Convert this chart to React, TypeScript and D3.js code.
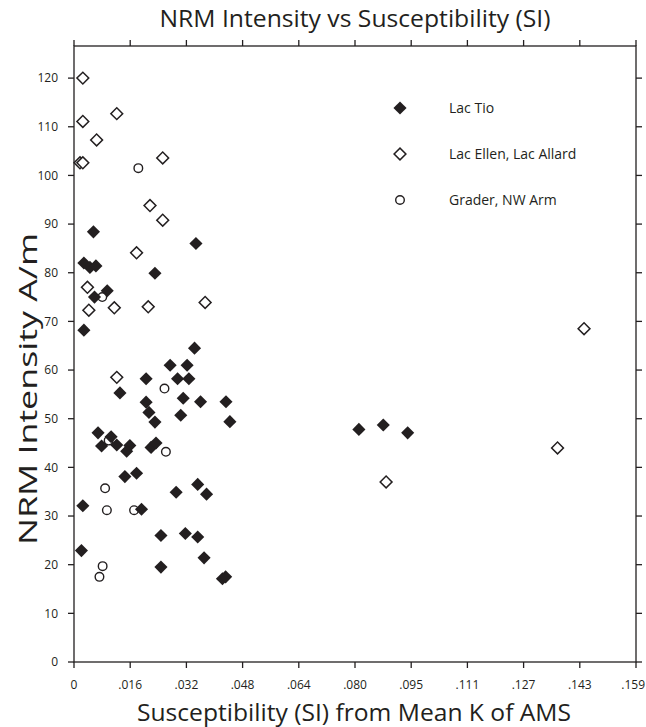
import React from "react";
import * as d3 from "d3";

// Samples: [mean susceptibility K (SI), NRM intensity (A/m)]
const lacTio: [number, number][] = [
  [0.0055, 88.4], [0.0345, 86.0], [0.0028, 82.0], [0.0045, 81.1], [0.0062, 81.4],
  [0.0229, 79.9], [0.0094, 76.3], [0.0058, 75.0], [0.0028, 68.2], [0.0341, 64.5],
  [0.0272, 61.0], [0.032, 61.0], [0.0204, 58.2], [0.0293, 58.2], [0.0325, 58.2],
  [0.013, 55.3], [0.0309, 54.2], [0.0358, 53.5], [0.043, 53.5], [0.0204, 53.4],
  [0.0212, 51.3], [0.0302, 50.7], [0.0229, 49.3], [0.0441, 49.4], [0.0068, 47.1],
  [0.0105, 46.3], [0.0078, 44.4], [0.0121, 44.6], [0.0158, 44.5], [0.0149, 43.3],
  [0.0218, 44.1], [0.0232, 45.0], [0.0144, 38.1], [0.0177, 38.8], [0.0025, 32.1],
  [0.0191, 31.4], [0.0289, 34.9], [0.035, 36.5], [0.0375, 34.5], [0.0246, 26.0],
  [0.0315, 26.4], [0.035, 25.7], [0.0368, 21.4], [0.0021, 22.9], [0.0246, 19.5],
  [0.042, 17.1], [0.0429, 17.5], [0.0806, 47.8], [0.0875, 48.7], [0.0944, 47.1],
];

const lacEllenAllard: [number, number][] = [
  [0.0025, 120.0], [0.0121, 112.7], [0.0025, 111.1], [0.0064, 107.3], [0.0017, 102.6],
  [0.0025, 102.6], [0.0251, 103.6], [0.0215, 93.8], [0.0251, 90.8], [0.0177, 84.1],
  [0.0038, 77.0], [0.0042, 72.3], [0.0114, 72.8], [0.021, 73.0], [0.0371, 73.9],
  [0.0121, 58.5], [0.0883, 37.0], [0.1368, 44.0], [0.1443, 68.5],
];

const graderNwArm: [number, number][] = [
  [0.0182, 101.5], [0.008, 75.0], [0.0256, 56.2], [0.026, 43.2], [0.0098, 45.5],
  [0.0088, 35.7], [0.0093, 31.2], [0.017, 31.2], [0.0081, 19.7], [0.0072, 17.5],
];

const xTickValues = [0, 0.0159, 0.0318, 0.0477, 0.0636, 0.0795, 0.0954, 0.1113, 0.1272, 0.1431, 0.159];
const xTickLabels = ["0", ".016", ".032", ".048", ".064", ".080", ".095", ".111", ".127", ".143", ".159"];
const yTickValues = [0, 10, 20, 30, 40, 50, 60, 70, 80, 90, 100, 110, 120];

const legendLabels = ["Lac Tio", "Lac Ellen, Lac Allard", "Grader, NW Arm"];

const W = 646;
const H = 727;
const margin = { left: 74, right: 10, top: 46, bottom: 65 };
const ink = "#231f20";
const font = "'Open Sans', 'Noto Sans', sans-serif";

const x = d3.scaleLinear().domain([0, 0.159]).range([margin.left, W - margin.right]);
const y = d3.scaleLinear().domain([0, 126.6]).range([H - margin.bottom, margin.top]);

const filledDiamond = d3.symbol().type(d3.symbolSquare).size(86)()!;
const openDiamond = d3.symbol().type(d3.symbolSquare).size(70)()!;
const circlePath = d3.symbol().type(d3.symbolCircle).size(Math.PI * 4.3 * 4.3)()!;

const Marker = ({ kind, cx, cy }: { kind: number; cx: number; cy: number }) => {
  if (kind === 0)
    return <path d={filledDiamond} transform={`translate(${cx},${cy}) rotate(45)`} fill={ink} />;
  if (kind === 1)
    return (
      <path d={openDiamond} transform={`translate(${cx},${cy}) rotate(45)`} fill="white" stroke={ink} strokeWidth={1.5} />
    );
  return <path d={circlePath} transform={`translate(${cx},${cy})`} fill="none" stroke={ink} strokeWidth={1.4} />;
};

export default function App() {
  const x0 = margin.left;
  const x1 = W - margin.right;
  const y0 = H - margin.bottom;
  const y1 = margin.top;
  const tickLen = 6;

  return (
    <svg width={W} height={H} style={{ position: "absolute", left: 0, top: 0, background: "white" }} fontFamily={font}>
      <rect width={W} height={H} fill="white" />

      <text x={355} y={27} textAnchor="middle" fontSize={23} fill={ink} textLength={391} lengthAdjust="spacingAndGlyphs">
        NRM Intensity vs Susceptibility (SI)
      </text>

      {/* frame */}
      <rect x={x0} y={y1} width={x1 - x0} height={y0 - y1} fill="none" stroke={ink} strokeWidth={1.3} />

      {/* x ticks, bottom and top */}
      {xTickValues.map((v, i) => {
        const last = i === xTickValues.length - 1;
        return (
          <g key={`xt${i}`}>
            <line x1={x(v)} x2={x(v)} y1={y0} y2={y0 + tickLen} stroke={ink} strokeWidth={1.3} />
            <line x1={x(v)} x2={x(v)} y1={y1} y2={y1 - tickLen} stroke={ink} strokeWidth={1.3} />
            <text
              x={last ? W - 1 : x(v)}
              y={y0 + 27}
              textAnchor={last ? "end" : "middle"}
              fontSize={12}
              fill={ink}
            >
              {xTickLabels[i]}
            </text>
          </g>
        );
      })}

      {/* y ticks, left and right */}
      {yTickValues.map((v) => (
        <g key={`yt${v}`}>
          <line x1={x0 - tickLen} x2={x0} y1={y(v)} y2={y(v)} stroke={ink} strokeWidth={1.3} />
          <line x1={x1} x2={x1 + tickLen} y1={y(v)} y2={y(v)} stroke={ink} strokeWidth={1.3} />
          <text x={x0 - 16} y={y(v)} dy="0.35em" textAnchor="end" fontSize={12} fill={ink}>
            {v}
          </text>
        </g>
      ))}

      {/* points */}
      <g>
        {lacEllenAllard.map(([a, b], i) => (
          <Marker key={`e${i}`} kind={1} cx={x(a)} cy={y(b)} />
        ))}
        {lacTio.map(([a, b], i) => (
          <Marker key={`t${i}`} kind={0} cx={x(a)} cy={y(b)} />
        ))}
        {graderNwArm.map(([a, b], i) => (
          <Marker key={`g${i}`} kind={2} cx={x(a)} cy={y(b)} />
        ))}
      </g>

      {/* legend */}
      {legendLabels.map((lab, i) => (
        <g key={lab} transform={`translate(0,${108 + i * 46})`}>
          <Marker kind={i} cx={400} cy={0} />
          <text x={449} y={0} dy="0.35em" fontSize={14} fill={ink}>
            {lab}
          </text>
        </g>
      ))}

      {/* axis titles */}
      <text x={354} y={721} textAnchor="middle" fontSize={23} fill={ink} textLength={434} lengthAdjust="spacingAndGlyphs">
        Susceptibility (SI) from Mean K of AMS
      </text>
      <text
        transform={`translate(37,389) rotate(-90)`}
        textAnchor="middle"
        fontSize={26}
        fill={ink}
        textLength={312}
        lengthAdjust="spacingAndGlyphs"
      >
        NRM Intensity A/m
      </text>
    </svg>
  );
}
